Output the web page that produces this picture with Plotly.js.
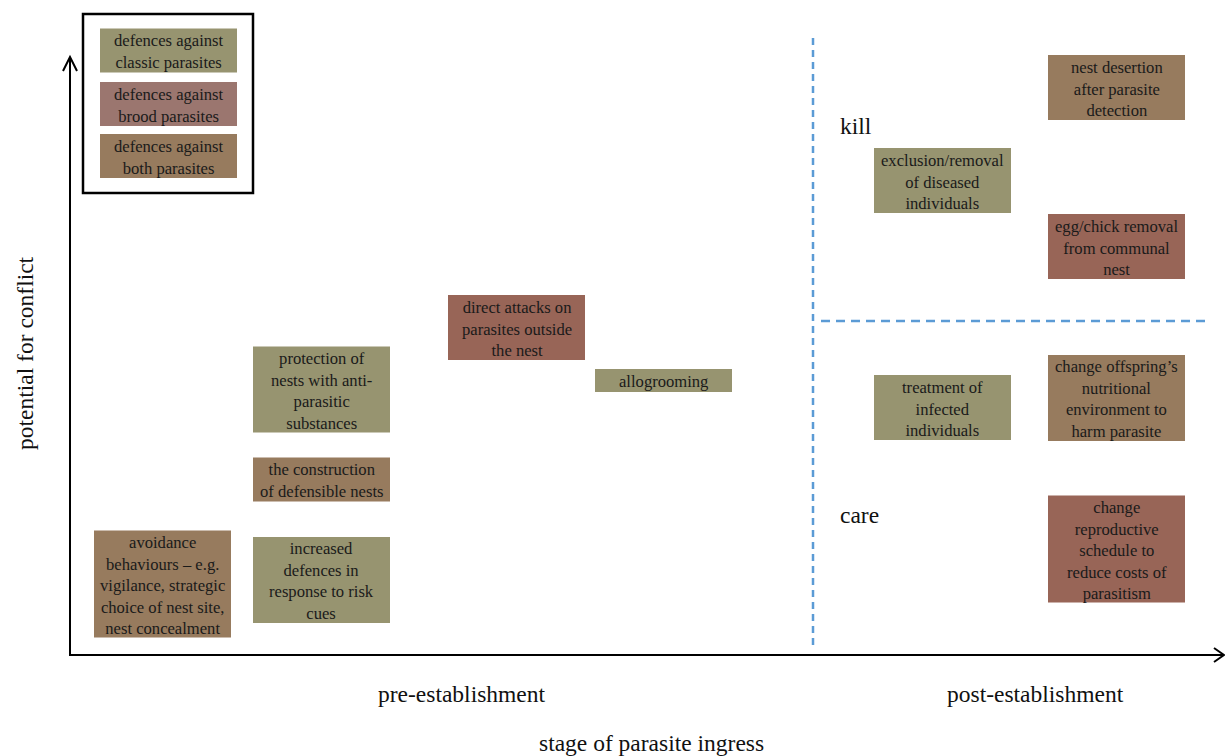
<!DOCTYPE html>
<html>
<head>
<meta charset="utf-8">
<script src="https://cdn.plot.ly/plotly-3.0.1.min.js"></script>
<style>html,body{margin:0;padding:0;background:#fff;}#chart{width:1225px;height:756px;}</style>
</head>
<body>
<div id="chart"></div>
<script>
// Box labels, category and position on the (stage, conflict) plane
const boxText = [
  "defences against<br>classic parasites",
  "defences against<br>brood parasites",
  "defences against<br>both parasites",
  "avoidance<br>behaviours – e.g.<br>vigilance, strategic<br>choice of nest site,<br>nest concealment",
  "protection of<br>nests with anti-<br>parasitic<br>substances",
  "the construction<br>of defensible nests",
  "increased<br>defences in<br>response to risk<br>cues",
  "direct attacks on<br>parasites outside<br>the nest",
  "allogrooming",
  "exclusion/removal<br>of diseased<br>individuals",
  "nest desertion<br>after parasite<br>detection",
  "egg/chick removal<br>from communal<br>nest",
  "treatment of<br>infected<br>individuals",
  "change offspring’s<br>nutritional<br>environment to<br>harm parasite",
  "change<br>reproductive<br>schedule to<br>reduce costs of<br>parasitism"
];
const boxCategory = ["classic","broodLegend","both","both","classic","both","classic","brood","classic","classic","both","brood","classic","both","brood"];
const boxStage    = [168.5, 168.5, 168.5, 162.5, 321.5, 321.5, 321.5, 516.5, 663.5, 942.5, 1116.5, 1116.5, 942.5, 1116.5, 1116.5];
const boxConflict = [50.5, 104, 156, 584, 389.5, 479.5, 580, 327.5, 380.5, 180.5, 87.5, 246.5, 407.5, 398, 549];

const zoneLabels = ["kill", "care"];
const stageLabels = ["pre-establishment", "post-establishment"];

const colors = {classic: "#979470", brood: "#986557", broodLegend: "#9b766f", both: "#977b5e"};
const W = 137;
const serif = "Liberation Serif";

const shapes = [];
const annotations = [];

boxText.forEach((t, i) => {
  const n = t.split("<br>").length;
  const h = 21 * n + 2;
  shapes.push({type: "rect", xref: "x", yref: "y",
    x0: boxStage[i] - W / 2, x1: boxStage[i] + W / 2,
    y0: boxConflict[i] - h / 2, y1: boxConflict[i] + h / 2,
    fillcolor: colors[boxCategory[i]], line: {width: 0}, layer: "below"});
  annotations.push({x: boxStage[i], y: boxConflict[i] + 1, xref: "x", yref: "y",
    text: t, showarrow: false, xanchor: "center", yanchor: "middle", align: "center",
    font: {family: serif, size: 16.6, color: "#1a1a1a"}});
});

// legend frame
shapes.push({type: "rect", xref: "x", yref: "y", x0: 83, x1: 253, y0: 14, y1: 193,
  line: {color: "#000", width: 2.5}, fillcolor: "rgba(0,0,0,0)"});

// axes
shapes.push({type: "line", xref: "x", yref: "y", x0: 70, x1: 70, y0: 656, y1: 57, line: {color: "#000", width: 2}});
shapes.push({type: "line", xref: "x", yref: "y", x0: 69, x1: 1223, y0: 655, y1: 655, line: {color: "#000", width: 2}});
shapes.push({type: "path", xref: "x", yref: "y", path: "M 63 71 L 70 57 L 77 71", line: {color: "#000", width: 2}});
shapes.push({type: "path", xref: "x", yref: "y", path: "M 1214 648 L 1224 655 L 1214 662", line: {color: "#000", width: 2}});

// dashed dividers
shapes.push({type: "line", xref: "x", yref: "y", x0: 813, x1: 813, y0: 38, y1: 650,
  line: {color: "#5b9bd5", width: 2.5, dash: "7px,5px"}});
shapes.push({type: "line", xref: "x", yref: "y", x0: 821, x1: 1210, y0: 321, y1: 321,
  line: {color: "#5b9bd5", width: 2.5, dash: "9px,6px"}});

const big = 23.5;
// zone labels
[[838, 126], [838, 515]].forEach((p, i) => {
  annotations.push({x: p[0], y: p[1], xref: "x", yref: "y", text: zoneLabels[i], showarrow: false,
    xanchor: "left", yanchor: "middle", font: {family: serif, size: big, color: "#111"}});
});
[[462, 694], [1035, 694]].forEach((p, i) => {
  annotations.push({x: p[0], y: p[1], xref: "x", yref: "y", text: stageLabels[i], showarrow: false,
    xanchor: "center", yanchor: "middle", font: {family: serif, size: big, color: "#111"}});
});

const layout = {
  width: 1225, height: 756,
  margin: {l: 0, r: 0, t: 0, b: 0},
  paper_bgcolor: "#fff", plot_bgcolor: "#fff",
  xaxis: {range: [0, 1225], visible: false, fixedrange: true, title: {text: ""}},
  yaxis: {range: [756, 0], visible: false, fixedrange: true, title: {text: ""}},
  shapes: shapes,
  annotations: annotations.concat([
    {x: 651, y: 743, xref: "x", yref: "y", text: "stage of parasite ingress", showarrow: false,
      xanchor: "center", yanchor: "middle", font: {family: serif, size: big, color: "#111"}},
    {x: 25, y: 353, xref: "x", yref: "y", text: "potential for conflict", showarrow: false, textangle: -90,
      xanchor: "center", yanchor: "middle", font: {family: serif, size: big, color: "#111"}}
  ]),
  showlegend: false
};

Plotly.newPlot("chart", [{x: [], y: [], type: "scatter", mode: "markers", hoverinfo: "skip"}], layout,
  {displayModeBar: false, staticPlot: true});
</script>
</body>
</html>
